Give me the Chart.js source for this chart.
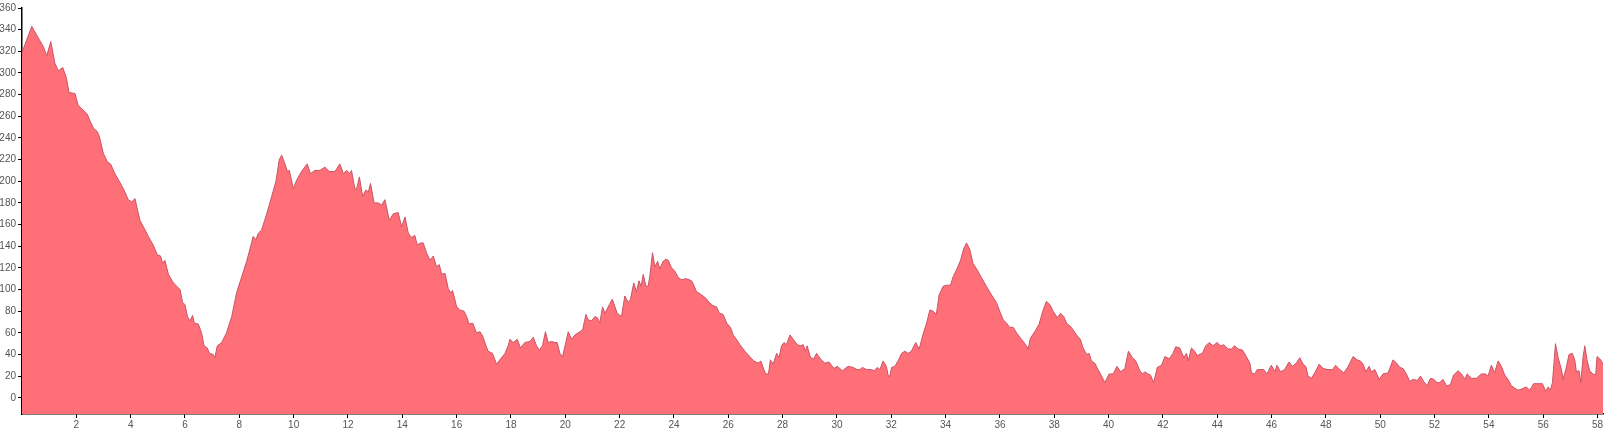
<!DOCTYPE html>
<html>
<head>
<meta charset="utf-8">
<script src="https://cdn.jsdelivr.net/npm/chart.js@4/dist/chart.umd.min.js"></script>
<style>
html,body{margin:0;padding:0;background:#fff;}
#wrap{width:1608px;height:433px;}
</style>
</head>
<body>
<div id="wrap"><canvas id="c" width="1608" height="433"></canvas></div>
<script>
// x positions (data units) and values
const xs = [
0.00,0.36,0.79,0.91,1.06,1.21,1.34,1.50,1.64,1.73,1.95,2.07,2.20,2.40,2.50,2.63,2.77,2.85,2.99,3.14,3.26,3.42,3.58,3.75,3.91,4.04,4.16,4.22,4.34,4.53,4.65,4.83,4.98,5.10,5.18,5.26,5.39,5.55,5.69,5.82,5.91,6.00,6.09,6.18,6.28,6.34,6.49,6.61,6.70,6.82,6.90,7.04,7.10,7.19,7.35,7.53,7.72,7.90,8.09,8.27,8.45,8.51,8.61,8.70,8.82,9.01,9.19,9.35,9.47,9.56,
9.68,9.77,9.84,9.99,10.11,10.29,10.50,10.62,10.78,10.97,11.15,11.31,11.52,11.70,11.83,11.95,12.07,12.13,12.26,12.34,12.42,12.54,12.66,12.75,12.83,12.96,13.11,13.24,13.36,13.52,13.67,13.85,13.97,14.10,14.22,14.34,14.46,14.55,14.67,14.77,14.89,15.02,15.14,15.26,15.36,15.45,15.57,15.69,15.78,15.85,16.00,16.12,16.27,16.37,16.46,16.59,16.73,16.86,16.96,17.08,17.16,17.32,17.47,17.59,17.78,17.90,17.96,18.08,18.23,18.35,18.51,18.70,18.82,18.94,19.04,19.16,19.27,19.37,19.49,19.62,19.70,19.80,19.90,19.99,20.11,20.23,20.35,20.54,
20.64,20.76,20.84,20.97,21.09,21.18,21.27,21.37,21.46,21.62,21.73,21.83,21.91,22.07,22.19,22.32,22.40,22.52,22.62,22.71,22.79,22.87,22.97,23.05,23.11,23.21,23.30,23.40,23.48,23.60,23.70,23.79,23.91,24.03,24.16,24.28,24.46,24.65,24.73,24.83,25.02,25.17,25.30,25.44,25.57,25.67,25.81,25.94,26.08,26.18,26.30,26.43,26.61,26.79,26.94,27.10,27.20,27.31,27.38,27.48,27.55,27.65,27.78,27.87,27.96,28.05,28.14,28.27,28.39,28.54,28.66,28.76,28.84,28.90,29.03,29.15,29.25,29.39,29.55,29.71,29.89,30.01,30.20,30.41,30.60,30.74,30.84,
30.94,31.09,31.27,31.37,31.48,31.58,31.70,31.82,31.89,31.95,32.01,32.13,32.25,32.38,32.50,32.62,32.74,32.90,33.03,33.15,33.30,33.42,33.54,33.66,33.76,33.91,34.03,34.18,34.28,34.40,34.55,34.67,34.77,34.89,35.01,35.14,35.32,35.50,35.69,35.87,35.99,36.12,36.24,36.36,36.49,36.61,36.79,36.95,37.04,37.12,37.28,37.44,37.59,37.71,37.84,37.96,38.11,38.23,38.35,38.45,38.63,38.82,38.96,39.06,39.19,39.28,39.37,39.49,39.61,39.74,39.86,40.02,40.17,40.31,40.44,40.60,40.73,40.88,41.00,41.15,
41.25,41.33,41.45,41.54,41.66,41.79,41.95,42.07,42.23,42.37,42.47,42.62,42.77,42.87,42.93,43.05,43.17,43.26,43.45,43.58,43.70,43.85,43.99,44.12,44.24,44.40,44.52,44.64,44.77,44.93,45.07,45.20,45.26,45.38,45.47,45.56,45.71,45.83,45.99,46.12,46.20,46.33,46.48,46.64,46.77,46.91,47.04,47.16,47.26,47.34,47.47,47.59,47.75,47.90,48.08,48.24,48.36,48.51,48.66,48.82,49.00,49.15,49.27,49.37,49.47,49.59,49.67,49.80,49.96,
50.10,50.29,50.47,50.60,50.72,50.84,50.96,51.09,51.21,51.36,51.48,51.60,51.72,51.85,51.97,52.09,52.19,52.31,52.44,52.58,52.70,52.87,52.99,53.11,53.20,53.36,53.54,53.72,53.88,53.97,54.09,54.21,54.34,54.46,54.58,54.70,54.83,54.95,55.07,55.20,55.38,55.50,55.65,55.81,55.97,56.09,56.18,56.26,56.34,56.45,56.55,56.67,56.73,56.83,56.95,57.07,57.16,57.22,57.32,57.38,57.47,57.53,57.61,57.71,57.83,57.93,57.98,58.08,58.14,58.20
];
const ys = [
319,343,324,316,329,309,302,305,295,282,281,270,267,262,256,249,246,241,226,218,216,207,200,192,183,181,184,177,164,155,149,141,132,131,124,127,114,107,103,100,88,86,75,71,76,69,68,60,48,46,41,40,37,48,51,60,75,97,112,126,143,149,146,152,155,170,186,200,220,224,
216,209,210,193,201,209,216,207,210,210,213,209,209,216,207,210,207,210,192,195,204,186,192,190,198,180,180,178,183,164,170,171,158,167,152,148,150,141,143,143,134,127,131,121,123,114,115,101,97,99,84,81,80,75,68,69,60,61,57,48,43,41,31,35,41,48,54,51,54,46,51,52,56,48,44,48,61,51,52,51,51,41,38,48,61,54,58,61,
63,77,72,71,75,74,69,84,78,86,91,84,78,75,94,88,91,106,98,108,103,114,103,103,112,134,121,126,119,126,128,127,120,117,111,109,110,108,104,98,95,92,88,85,84,78,77,69,65,58,54,49,43,38,34,32,34,26,22,22,35,31,41,37,48,51,49,58,54,49,48,49,43,48,37,36,41,36,32,33,27,29,25,29,28,26,26,
28,26,26,25,28,26,34,29,20,20,28,29,34,41,43,41,43,51,45,57,69,81,80,77,95,103,104,104,112,118,127,138,143,137,124,119,111,103,95,88,80,72,69,65,65,60,54,49,45,55,61,68,81,89,86,80,74,78,75,69,65,58,54,46,40,41,34,32,26,20,14,22,22,29,24,27,43,37,34,25,
22,24,22,21,14,28,30,38,36,41,47,46,37,41,34,46,43,39,41,48,51,48,51,48,49,45,45,48,45,44,38,32,23,22,26,26,26,22,30,24,30,24,26,33,29,32,37,31,29,20,18,23,31,27,26,26,30,26,23,29,38,35,34,31,24,29,24,26,17,
22,23,35,32,28,27,22,15,17,16,20,15,11,18,17,14,14,17,11,12,21,25,22,17,22,18,18,22,22,20,30,23,34,29,21,17,11,9,7,8,10,7,13,13,13,6,10,7,14,50,37,26,17,26,40,41,35,24,25,14,38,48,35,25,22,21,38,36,34,31
];
const xTickValues = [2,4,6,8,10,12,14,16,18,20,22,24,26,28,30,32,34,36,38,40,42,44,46,48,50,52,54,56,58];
const yTickValues = [0,20,40,60,80,100,120,140,160,180,200,220,240,260,280,300,320,340,360];

const points = xs.map((x, i) => ({x: x, y: ys[i]}));

new Chart(document.getElementById('c'), {
  type: 'line',
  data: {
    datasets: [{
      data: points,
      fill: 'start',
      backgroundColor: 'rgb(255,111,120)',
      borderColor: 'rgb(200,84,102)',
      borderWidth: 1,
      pointRadius: 0,
      tension: 0
    }]
  },
  options: {
    responsive: false,
    animation: false,
    devicePixelRatio: 1,
    layout: { padding: { top: 7, right: 5, left: 0, bottom: 0 } },
    plugins: { legend: { display: false }, tooltip: { enabled: false } },
    scales: {
      x: {
        type: 'linear',
        min: 0,
        max: 58.2,
        afterBuildTicks: (axis) => { axis.ticks = xTickValues.map(v => ({ value: v })); },
        afterFit: (axis) => { axis.height = 19; },
        ticks: { font: { family: 'Liberation Sans, Arial, sans-serif', size: 10 }, color: '#555', padding: 1, maxRotation: 0, autoSkip: false },
        grid: { display: true, drawOnChartArea: false, drawTicks: true, tickLength: 4, color: '#000', lineWidth: 1 },
        border: { display: true, color: '#000', width: 1.5 }
      },
      y: {
        type: 'linear',
        min: -15,
        max: 360,
        afterBuildTicks: (axis) => { axis.ticks = yTickValues.map(v => ({ value: v })); },
        afterFit: (axis) => { axis.width = 22; },
        ticks: { font: { family: 'Liberation Sans, Arial, sans-serif', size: 10 }, color: '#555', padding: 2, autoSkip: false },
        grid: { display: true, drawOnChartArea: false, drawTicks: true, tickLength: 4, color: '#000', lineWidth: 1 },
        border: { display: true, color: '#000', width: 1.5 }
      }
    }
  }
});
</script>
</body>
</html>
